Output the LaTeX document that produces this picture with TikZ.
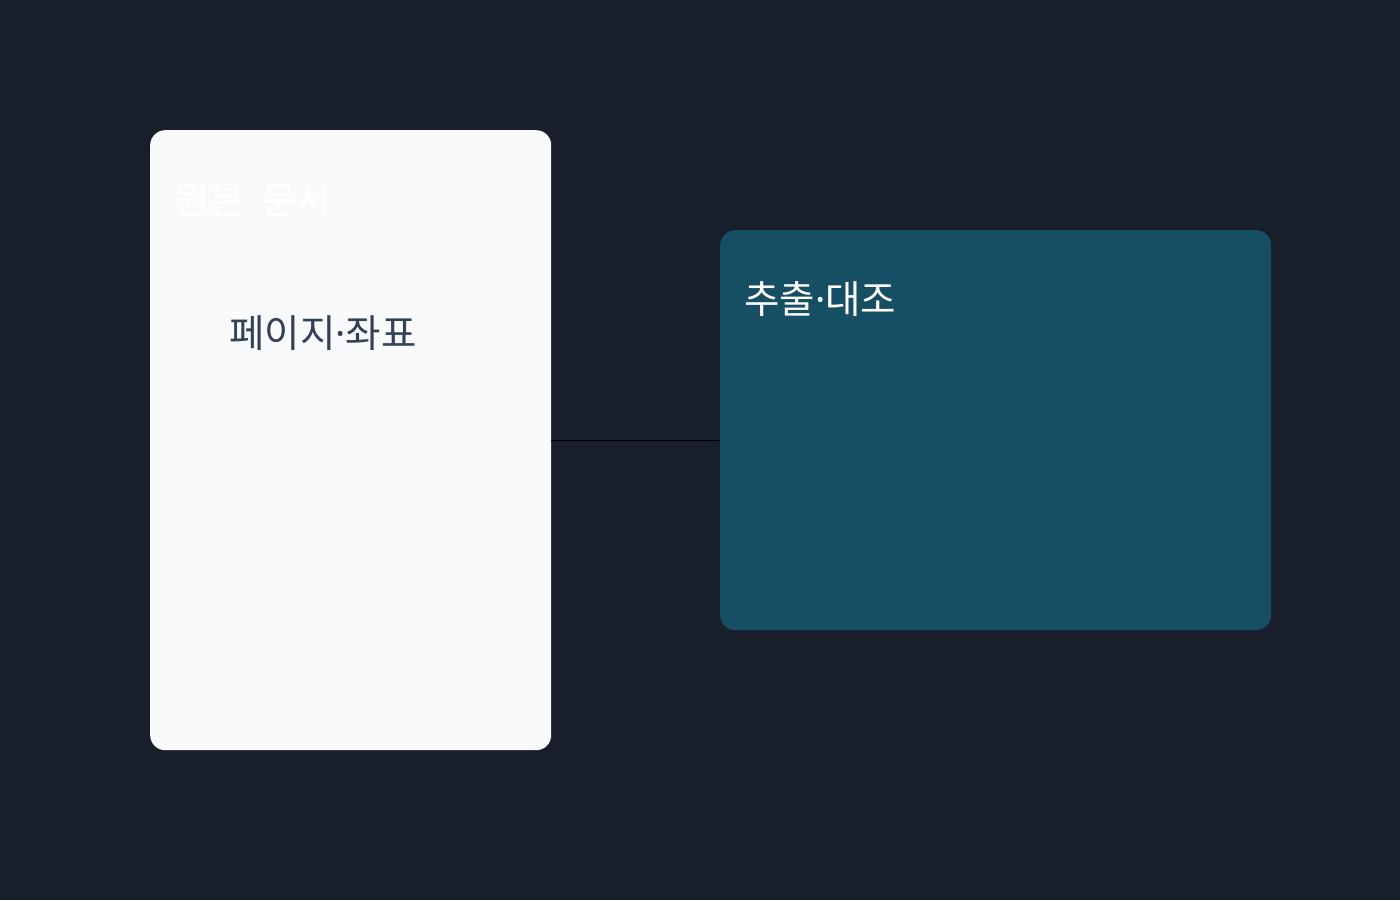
\documentclass[tikz,border=0pt]{standalone}
\usepackage{fontspec}
\setmainfont{Noto Sans CJK KR}
\newfontfamily\latinfont{Noto Sans}
\usepackage{tikz}
\usetikzlibrary{positioning, calc}
\usepackage{xcolor}
\definecolor{bgdark}{HTML}{181F2A}
\definecolor{paper}{HTML}{F8FAFC}
\definecolor{tealbox}{HTML}{164E63}
\definecolor{slatetext}{HTML}{334155}
\newcommand{\mdot}{{\latinfont ·}}

\begin{document}
\begin{tikzpicture}[x=1pt, y=-1pt,
    panel/.style={rounded corners=15pt, draw=none, inner sep=0pt, anchor=north west},
    title/.style={font=\fontsize{38.5}{42}\selectfont, anchor=base west, inner sep=0pt},
    link/.style={draw=black, line width=1pt}]
        \fill[bgdark] (0,0) rectangle (1400,900);
        \useasboundingbox (0,0) rectangle (1400,900);
        \node (doc) [panel, fill=paper, minimum width=401pt, minimum height=620pt] at (150,130) {};
        \node (extract) [panel, fill=tealbox, minimum width=551pt, minimum height=400pt] at (720,230) {};
        \node (doctitle) [title, text=white] at (174,214) {원본\hspace{0.42em}문서};
        \node (coords) [title, text=slatetext] at (229,347) {페이지\mdot 좌표};
        \node (extitle) [title, text=white] at (744,313) {추출\mdot 대조};
        \draw[link] (doc.east) -- (doc.east -| extract.west);
    \end{tikzpicture}
\end{document}
